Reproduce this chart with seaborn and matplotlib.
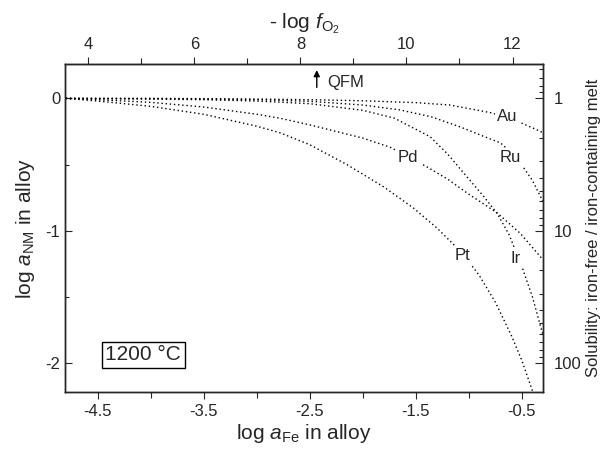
import numpy as np
import pandas as pd
import matplotlib
matplotlib.use("Agg")
import matplotlib.pyplot as plt
import seaborn as sns
from matplotlib.ticker import FixedLocator, FixedFormatter, LogLocator, NullFormatter

# ---------------- data ----------------
metals = ["Au", "Ru", "Ir", "Pd", "Pt"]

au_x = [-4.8, -4.0, -3.5, -3.0, -2.5, -2.0, -1.5, -1.18, -0.78, -0.55, -0.35, -0.3]
au_y = [0.0, 0.0, -0.002, -0.005, -0.01, -0.018, -0.032, -0.05, -0.11, -0.17, -0.24, -0.26]

ru_x = [-4.8, -4.0, -3.5, -3.0, -2.5, -2.0, -1.65, -1.35, -1.08, -0.85, -0.70, -0.6, -0.486, -0.4, -0.3]
ru_y = [0.0, -0.002, -0.005, -0.01, -0.022, -0.05, -0.087, -0.14, -0.216, -0.29, -0.337, -0.41, -0.52, -0.62, -0.78]

ir_x = [-4.8, -4.0, -3.5, -3.0, -2.5, -2.0, -1.7, -1.364, -1.2, -1.015, -0.85, -0.732, -0.62, -0.5, -0.4, -0.3]
ir_y = [0.0, -0.005, -0.01, -0.02, -0.04, -0.09, -0.15, -0.29, -0.42, -0.595, -0.75, -0.87, -1.03, -1.27, -1.5, -1.79]

pd_x = [-4.8, -4.5, -4.0, -3.5, -3.0, -2.78, -2.5, -2.0, -1.74, -1.57, -1.39, -1.2, -1.015, -0.73, -0.515, -0.3]
pd_y = [0.0, -0.01, -0.03, -0.065, -0.12, -0.15, -0.2, -0.3, -0.37, -0.44, -0.52, -0.61, -0.716, -0.867, -1.02, -1.22]

pt_x = [-4.8, -4.5, -4.0, -3.5, -3.0, -2.78, -2.5, -2.15, -1.8, -1.52, -1.3, -1.06, -0.9, -0.75, -0.6, -0.5, -0.4, -0.35]
pt_y = [0.0, -0.02, -0.06, -0.12, -0.21, -0.26, -0.35, -0.5, -0.67, -0.83, -0.98, -1.17, -1.34, -1.54, -1.79, -1.98, -2.21, -2.3]

label_x = [-0.637, -0.609, -0.56, -1.57, -1.06]
label_y = [-0.14, -0.45, -1.21, -0.45, -1.19]

bottom_ticks = [-4.5, -3.5, -2.5, -1.5, -0.5]
bottom_minor = [-4.0, -3.0, -2.0, -1.0]
left_ticks = [0, -1, -2]
left_minor = [-0.5, -1.5]
top_ticks = [4, 6, 8, 10, 12]
top_minor = [5, 7, 9, 11]
right_ticks = [1, 10, 100]
right_labels = ["1", "10", "100"]

qfm_x = -2.433

# ---------------- style ----------------
sns.set_style("ticks")
plt.rcParams["font.family"] = ["Liberation Sans", "DejaVu Sans"]
plt.rcParams["mathtext.fontset"] = "custom"
plt.rcParams["mathtext.rm"] = "Liberation Sans"
plt.rcParams["mathtext.it"] = "Liberation Sans:italic"
plt.rcParams["axes.unicode_minus"] = False

fig = plt.figure(figsize=(6.06, 4.5), dpi=100)
ax = fig.add_axes([65 / 606, 1 - 392 / 450, 478 / 606, 328 / 450])

xs = [au_x, ru_x, ir_x, pd_x, pt_x]
ys = [au_y, ru_y, ir_y, pd_y, pt_y]
df = pd.concat([pd.DataFrame({"x": x, "y": y, "metal": m}) for m, x, y in zip(metals, xs, ys)],
               ignore_index=True)

for m in metals:
    sub = df[df.metal == m]
    sns.lineplot(data=sub, x="x", y="y", ax=ax, color="black", lw=1.0,
                 linestyle=(0, (1, 2)), sort=False, estimator=None, legend=False)

for m, lx, ly in zip(metals, label_x, label_y):
    ax.text(lx, ly, m, fontsize=12, ha="center", va="center", zorder=5,
            bbox=dict(facecolor="white", edgecolor="none", pad=1.5))

xmin, xmax = -4.807, -0.30
ymin, ymax = -2.22, 0.26
ax.set_xlim(xmin, xmax)
ax.set_ylim(ymin, ymax)

ax.set_xticks(bottom_ticks)
ax.set_xticklabels([f"{t:g}" for t in bottom_ticks])
ax.set_xticks(bottom_minor, minor=True)
ax.set_yticks(left_ticks)
ax.set_yticklabels([f"{t:g}" for t in left_ticks])
ax.set_yticks(left_minor, minor=True)
ax.tick_params(axis="x", which="both", direction="out", labelsize=12, top=False)
ax.tick_params(axis="x", which="major", length=5, width=0.8)
ax.tick_params(axis="x", which="minor", length=4, width=0.8)
ax.tick_params(axis="y", which="both", direction="in", labelsize=12, right=False)
ax.tick_params(axis="y", which="major", length=5, width=0.8)
ax.tick_params(axis="y", which="minor", length=3, width=0.8)
for s in ax.spines.values():
    s.set_linewidth(1.0)
    s.set_color("black")

ax.set_xlabel(r"log $\mathit{a}_{\mathrm{Fe}}$ in alloy", fontsize=15, labelpad=2)
ax.set_ylabel(r"log $\mathit{a}_{\mathrm{NM}}$ in alloy", fontsize=15, labelpad=6)

# top axis: -log fO2
sec = ax.secondary_xaxis("top", functions=(lambda x: 2 * x + 13.175, lambda v: (v - 13.175) / 2))
sec.set_xticks(top_ticks)
sec.set_xticklabels([str(t) for t in top_ticks])
sec.set_xticks(top_minor, minor=True)
sec.tick_params(which="both", direction="out", labelsize=12)
sec.tick_params(which="major", length=5, width=0.8)
sec.tick_params(which="minor", length=4, width=0.8)
sec.set_xlabel(r"- log $\mathit{f}_{\mathrm{O_2}}$", fontsize=15, labelpad=6)

# right axis: solubility ratio (log, inverted)
ax2 = ax.twinx()
ax2.set_yscale("log")
ax2.set_ylim(10 ** (-ymin), 10 ** (-ymax))
ax2.yaxis.set_major_locator(FixedLocator(right_ticks))
ax2.yaxis.set_major_formatter(FixedFormatter(right_labels))
ax2.yaxis.set_minor_locator(LogLocator(base=10, subs=np.arange(2, 10)))
ax2.yaxis.set_minor_formatter(NullFormatter())
ax2.tick_params(axis="y", which="both", direction="in", labelsize=12)
ax2.tick_params(axis="y", which="major", length=6, width=0.8, pad=8)
ax2.tick_params(axis="y", which="minor", length=3, width=0.8)
ax2.set_ylabel("Solubility: iron-free / iron-containing melt", fontsize=12, labelpad=3)
for s in ax2.spines.values():
    s.set_linewidth(1.0)

# QFM arrow
ax.annotate("", xy=(qfm_x, 0.235), xytext=(qfm_x, 0.062),
            arrowprops=dict(arrowstyle="-|>", color="black", lw=1.0, mutation_scale=9))
ax.text(qfm_x + 0.1, 0.117, "QFM", fontsize=12, ha="left", va="center")

# temperature box
ax.text(-4.07, -1.94, "1200 °C", fontsize=15, ha="center", va="center",
        bbox=dict(facecolor="white", edgecolor="black", linewidth=1.0, pad=2.5))

fig.savefig("out.png", dpi=100)
